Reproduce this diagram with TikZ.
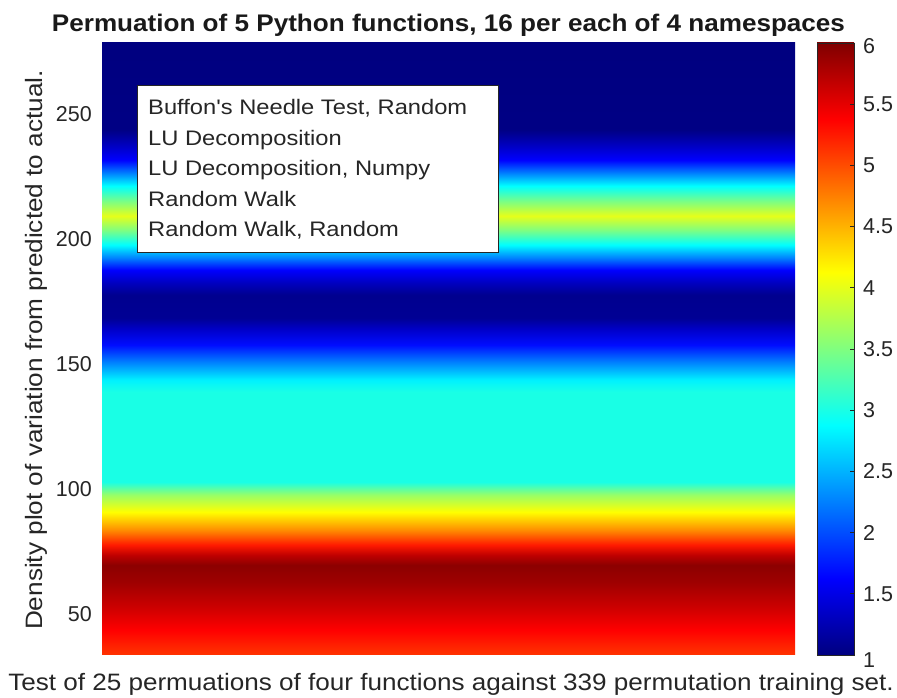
\documentclass[tikz,border=0pt]{standalone}
\usepackage{graphicx}
\usepackage{fontspec}
\setmainfont{Liberation Sans}
% same family without TeX quote ligatures, so ' stays a straight quote
\newfontfamily\plainsans{Liberation Sans}

\definecolor{axgray}{rgb}{0.15,0.15,0.15}

% density field: value profile along the vertical axis, coloured with jet
\pgfdeclareverticalshading{bandfield}{100bp}{%
 rgb(0bp)=(1,0.2,0);
 rgb(25bp)=(1,0.2,0);
 rgb(25.57bp)=(1,0.15,0);
 rgb(27.04bp)=(1,0,0);
 rgb(28.92bp)=(0.8,0,0);
 rgb(30.96bp)=(0.62,0,0);
 rgb(32.35bp)=(0.55,0,0);
 rgb(33.17bp)=(0.75,0,0);
 rgb(33.99bp)=(1,0.1,0);
 rgb(35.21bp)=(1,0.55,0);
 rgb(36.68bp)=(1,1,0);
 rgb(38.07bp)=(0.6,1,0.4);
 rgb(39.13bp)=(0.1,1,0.9);
 rgb(46.49bp)=(0.1,1,0.9);
 rgb(47.47bp)=(0,0.95,1);
 rgb(48.94bp)=(0,0.5,1);
 rgb(50.33bp)=(0,0.05,1);
 rgb(51.55bp)=(0,0,0.8);
 rgb(52.53bp)=(0,0,0.58);
 rgb(54.41bp)=(0,0,0.56);
 rgb(55.39bp)=(0,0,0.75);
 rgb(56.45bp)=(0,0,1);
 rgb(57.43bp)=(0,0.5,1);
 rgb(58.50bp)=(0,1,1);
 rgb(59.72bp)=(0.5,1,0.5);
 rgb(60.87bp)=(0.9,1,0.1);
 rgb(62.01bp)=(0.5,1,0.5);
 rgb(63.32bp)=(0,1,1);
 rgb(64.38bp)=(0,0.5,1);
 rgb(65.44bp)=(0,0,1);
 rgb(66.67bp)=(0,0,0.75);
 rgb(67.89bp)=(0,0,0.52);
 rgb(75bp)=(0,0,0.5);
 rgb(100bp)=(0,0,0.5)}

% jet colormap for the colour bar (1 at bottom, 6 at top)
\pgfdeclareverticalshading{jetbar}{100bp}{%
 rgb(0bp)=(0,0,0.5);
 rgb(25bp)=(0,0,0.5);
 rgb(31.25bp)=(0,0,1);
 rgb(43.75bp)=(0,1,1);
 rgb(56.25bp)=(1,1,0);
 rgb(68.75bp)=(1,0,0);
 rgb(75bp)=(0.5,0,0);
 rgb(100bp)=(0.5,0,0)}

\tikzset{
  ticklabel/.style={inner sep=0pt, text=axgray, font=\fontsize{21.5bp}{26bp}\selectfont},
  legendline/.style={anchor=base west, inner sep=0pt, text=axgray, font=\plainsans\fontsize{21bp}{25bp}\selectfont},
  axislabel/.style={anchor=base, inner sep=0pt, text=axgray, font=\fontsize{23.7bp}{28bp}\selectfont},
  titletext/.style={anchor=base, inner sep=0pt, text=black!90, font=\fontsize{24bp}{28bp}\selectfont\bfseries},
  framed/.style={draw=axgray, line width=0.8bp},
  cbtick/.style={draw=axgray, line width=0.8bp}
}

\begin{document}
\begin{tikzpicture}[x=1bp,y=1bp]
  \useasboundingbox (0,0) rectangle (897,698);
  \fill[white] (0,0) rectangle (897,698);

  % density image
  \path[shading=bandfield] (102,43) rectangle (795,655);
  \coordinate (plotSW) at (102,43);
  \coordinate (plotNE) at (795,655);

  % title
  \node[titletext] (title) at (448.5,666)
    {\scalebox{1.087}[1]{Permuation of 5 Python functions, 16 per each of 4 namespaces}};

  % axis labels
  \node[axislabel] (xlabel) at (451,7)
    {\scalebox{1.1}[1]{Test of 25 permuations of four functions against 339 permutation training set.}};
  \node[axislabel, rotate=90] (ylabel) at (42,348)
    {\scalebox{1.104}[1]{Density plot of variation from predicted to actual.}};

  % y tick labels
  \foreach \v in {50,100,150,200,250}
    \node[ticklabel, anchor=east] (ytick\v) at (92,{84+(\v-50)*2.5}) {\v};

  % legend
  \node[framed, fill=white, minimum width=361bp, minimum height=167bp,
        inner sep=0pt, anchor=south west] (legend) at (137,445) {};
  \node[legendline] (leg1) at (148,583)   {\scalebox{1.129}[1]{Buffon's Needle Test, Random}};
  \node[legendline] (leg2) at (148,552.5) {\scalebox{1.129}[1]{LU Decomposition}};
  \node[legendline] (leg3) at (148,522)   {\scalebox{1.129}[1]{LU Decomposition, Numpy}};
  \node[legendline] (leg4) at (148,491.5) {\scalebox{1.129}[1]{Random Walk}};
  \node[legendline] (leg5) at (148,461)   {\scalebox{1.129}[1]{Random Walk, Random}};

  % colour bar
  \path[shading=jetbar] (817,43) rectangle (854,655);
  \draw[framed] (817,43) rectangle (854,655);
  \foreach \v in {1.5,2,2.5,3,3.5,4,4.5,5,5.5}
    \draw[cbtick] (854,{43+(\v-1)*122.4}) -- (850,{43+(\v-1)*122.4});
  \node[ticklabel, anchor=west] (cb6) at (863,652) {6};
  \foreach \v/\n in {5.5/cbA,5/cbB,4.5/cbC,4/cbD,3.5/cbE,3/cbF,2.5/cbG,2/cbH,1.5/cbI}
    \node[ticklabel, anchor=west] (\n) at (863,{43+(\v-1)*122.4}) {\v};
  \node[ticklabel, anchor=west] (cb1) at (863,38) {1};
\end{tikzpicture}
\end{document}
